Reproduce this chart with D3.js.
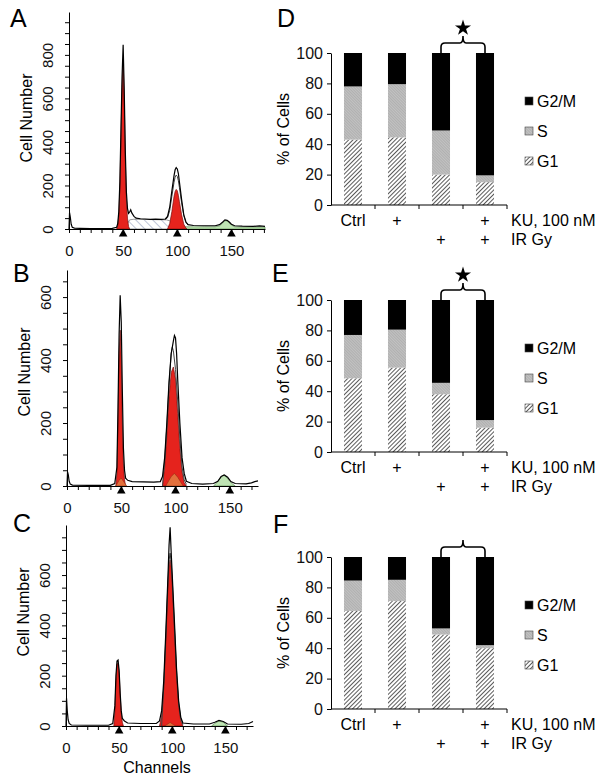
<!DOCTYPE html>
<html>
<head>
<meta charset="utf-8">
<script src="https://cdnjs.cloudflare.com/ajax/libs/d3/7.8.5/d3.min.js"></script>
<style>
  body { margin: 0; background: #fff; }
  svg { font-family: 'Liberation Sans', Arial, sans-serif; }
</style>
</head>
<body>
<div id="chart"></div>
<script>
const channelLabels = [0, 50, 100, 150];
const peakMarks = [50, 100, 150];

const totalA = [[0, 0], [0.5, 75], [1.2, 55], [2, 22], [3, 8], [5, 4], [10, 3], [20, 2], [30, 2], [40, 3],
  [44, 8], [45, 25], [46, 80], [47, 220], [48, 460], [49, 700], [50, 846], [51, 640], [52, 360], [53, 170],
  [54, 95], [55, 72], [56, 78], [57, 88], [58, 74], [60, 58], [62, 50], [66, 47], [70, 46], [75, 44],
  [80, 45], [85, 44], [89, 46], [91, 58], [93, 100], [95, 175], [97, 245], [98, 272], [99, 282], [100, 276],
  [101, 255], [102, 215], [104, 135], [106, 65], [108, 32], [110, 20], [115, 16], [125, 15], [135, 15],
  [139, 20], [142, 32], [144, 42], [146, 40], [148, 32], [150, 22], [153, 15], [160, 13], [170, 12],
  [176, 14], [181, 12]];
const fitA = [[89, 44], [91, 52], [93, 85], [95, 150], [97, 215], [98, 238], [99, 248], [100, 242],
  [101, 222], [102, 190], [104, 120], [106, 62], [108, 30], [110, 18]];
const g1A = [[44, 0], [45, 15], [46, 60], [47, 190], [48, 420], [49, 650], [50, 780], [51, 590], [52, 320],
  [53, 140], [54, 50], [55, 12], [56, 0]];
const g2A = [[91, 0], [93, 25], [95, 80], [97, 150], [98, 172], [99, 182], [100, 176], [101, 155],
  [102, 125], [104, 65], [106, 22], [108, 4], [109, 0]];
const g3A = [[104, 0], [105, 10], [115, 10], [125, 10], [135, 10], [139, 14], [142, 28], [144, 38],
  [146, 37], [148, 28], [150, 18], [153, 10], [160, 9], [170, 9], [181, 9], [181, 0]];
const sA = [[52, 0], [54, 25], [56, 42], [60, 45], [70, 44], [80, 43], [90, 42], [94, 36], [97, 20], [99, 0]];

const totalB = [[0, 0], [0.5, 45], [1.2, 35], [2, 15], [3, 6], [5, 3], [20, 2], [40, 2], [44, 8], [46, 60],
  [47, 250], [48, 480], [49, 606], [50, 520], [51, 300], [52, 120], [53, 50], [54, 25], [56, 18], [60, 14],
  [70, 13], [80, 12], [86, 14], [88, 30], [90, 90], [92, 200], [94, 330], [96, 420], [98, 460], [99, 478],
  [100, 470], [101, 420], [102, 340], [104, 200], [106, 90], [108, 40], [110, 15], [115, 8], [125, 6],
  [135, 8], [139, 15], [142, 30], [145, 35], [148, 28], [151, 14], [155, 8], [165, 7], [170, 10],
  [173, 14], [176, 16]];
const fitB = [[88, 0], [90, 80], [92, 190], [94, 320], [96, 420], [97, 441], [98, 430], [100, 370],
  [102, 270], [104, 150], [106, 60], [108, 20], [110, 5]];
const g1B = [[45, 0], [46, 40], [47, 200], [48, 420], [49, 495], [50, 400], [51, 200], [52, 70], [53, 20], [54, 0]];
const g2B = [[88, 0], [90, 60], [92, 160], [94, 280], [96, 360], [98, 378], [100, 340], [102, 230],
  [104, 120], [106, 45], [108, 10], [110, 0]];
const g3B = [[135, 0], [138, 10], [141, 25], [144, 35], [147, 28], [150, 15], [153, 5], [155, 0]];
const overlapB1 = [[45, 0], [48, 18], [50, 25], [52, 15], [55, 0]];
const overlapB2 = [[91, 0], [96, 30], [99, 40], [102, 28], [107, 0]];

const totalC = [[0, 0], [0.5, 110], [1.2, 60], [2, 25], [3, 10], [5, 4], [20, 3], [40, 3], [44, 10],
  [46, 80], [47, 200], [48, 258], [49, 262], [50, 220], [51, 130], [52, 60], [53, 30], [55, 20], [58, 12],
  [70, 10], [85, 10], [88, 20], [90, 60], [92, 180], [94, 380], [96, 600], [97, 720], [98, 790], [99, 690],
  [100, 600], [102, 420], [104, 230], [106, 100], [108, 35], [110, 12], [120, 8], [135, 8], [140, 15],
  [144, 22], [148, 18], [152, 8], [165, 7], [172, 10], [176, 18]];
const fitC = [[90, 0], [92, 160], [94, 360], [96, 580], [97, 660], [98, 687], [99, 650], [100, 580],
  [102, 400], [104, 220], [106, 90], [108, 30], [110, 5]];
const g1C = [[45, 0], [46, 60], [47, 180], [48, 245], [49, 250], [50, 210], [51, 120], [52, 50], [53, 15], [54, 0]];
const g2C = [[88, 0], [90, 40], [92, 150], [94, 340], [96, 560], [97, 640], [98, 660], [99, 630],
  [100, 560], [102, 380], [104, 200], [106, 80], [108, 20], [110, 0]];
const g3C = [[137, 0], [140, 10], [144, 20], [148, 15], [152, 0]];
const overlapC = [[93, 0], [98, 14], [103, 0]];

// ---- Cell cycle distribution, % of cells (panels D-F) ----
const treatments = ['Ctrl', 'KU', 'IR', 'KU+IR'];
const kuRow = ['Ctrl', '+', '', '+'];
const irRow = ['', '', '+', '+'];
const phases = ['G1', 'S', 'G2/M'];
const legendOrder = ['G2/M', 'S', 'G1'];

const g1D = [43, 44.5, 20, 15];
const sD = [35, 35, 29, 4.5];
const g2mD = [22, 20.5, 51, 80.5];

const g1E = [48.5, 55.5, 38, 16];
const sE = [28.5, 25, 7.5, 5];
const g2mE = [23, 19.5, 54.5, 79];

const g1F = [64.5, 71, 49, 40];
const sF = [20, 14, 4, 2];
const g2mF = [15.5, 15, 47, 58];

const svg = d3.select('#chart').append('svg')
  .attr('width', 604)
  .attr('height', 784);

// fill patterns
const defs = svg.append('defs');
function hatch(id, angle, gap, bg, stroke, width) {
  const p = defs.append('pattern')
    .attr('id', id)
    .attr('patternUnits', 'userSpaceOnUse')
    .attr('width', gap)
    .attr('height', gap)
    .attr('patternTransform', `rotate(${angle})`);
  p.append('rect').attr('width', gap).attr('height', gap).attr('fill', bg);
  p.append('line').attr('x1', 0).attr('y1', 0).attr('x2', 0).attr('y2', gap)
    .attr('stroke', stroke).attr('stroke-width', width);
}
hatch('g1Fill', 45, 3, '#fff', '#000', 1.3);
hatch('sFill', -45, 2, '#c2c2c2', '#8f8f8f', 0.7);
hatch('sHist', -45, 6, '#fff', '#6f7ea6', 0.9);
const phaseFill = { 'G1': 'url(#g1Fill)', 'S': 'url(#sFill)', 'G2/M': '#000' };

function panelLetter(txt, x, y) {
  svg.append('text').attr('x', x).attr('y', y).attr('font-size', 25).text(txt);
}

/**
 * Draws one DNA histogram: fitted peaks, raw outline, axes and peak markers.
 */
function drawHistogram(o) {
  const g = svg.append('g');
  const x = d3.scaleLinear().domain([0, o.xMax]).range([o.x0, o.x1]);
  const y = d3.scaleLinear().domain([0, o.yMax]).range([o.y0, o.yTop]);
  const area = d3.area().x((d) => x(d[0])).y0(y(0)).y1((d) => y(d[1]));
  const line = d3.line().x((d) => x(d[0])).y((d) => y(d[1]));

  g.append('path').datum(o.g3).attr('d', area)
    .attr('fill', '#bfe4b4').attr('stroke', '#5d8f55').attr('stroke-width', 0.7);
  if (o.s) {
    g.append('path').datum(o.s).attr('d', area)
      .attr('fill', 'url(#sHist)').attr('stroke', '#555').attr('stroke-width', 0.6);
  }
  o.peaks.forEach((p) => {
    g.append('path').datum(p).attr('d', area)
      .attr('fill', '#e5231d').attr('stroke', '#7a0d0d').attr('stroke-width', 0.7);
  });
  (o.overlaps || []).forEach((p) => {
    g.append('path').datum(p).attr('d', area)
      .attr('fill', '#e2703c').attr('stroke', '#8a2a10').attr('stroke-width', 0.5);
  });
  g.append('path').datum(o.fit).attr('d', line)
    .attr('fill', 'none').attr('stroke', '#444').attr('stroke-width', 1);
  g.append('path').datum(o.total).attr('d', line)
    .attr('fill', 'none').attr('stroke', '#000').attr('stroke-width', 1.2);

  const xAxis = d3.axisBottom(x)
    .tickValues(d3.range(0, o.xMax, 10))
    .tickSize(4)
    .tickSizeOuter(0)
    .tickFormat((d) => (channelLabels.includes(d) ? d : ''));
  const xg = g.append('g').attr('transform', `translate(0,${o.y0})`).call(xAxis);
  xg.selectAll('text').attr('y', 27).attr('dy', 0).attr('font-size', 15).attr('fill', '#111');

  const yAxis = d3.axisLeft(y)
    .tickValues(d3.range(0, o.yMax, 50))
    .tickSize(4)
    .tickSizeOuter(0)
    .tickFormat((d) => (d % 200 === 0 ? d : ''));
  const yg = g.append('g').attr('transform', `translate(${o.x0},0)`).call(yAxis);
  yg.selectAll('text')
    .attr('transform', 'rotate(-90)')
    .attr('x', 0).attr('y', -16).attr('dy', 0)
    .style('text-anchor', 'middle')
    .attr('font-size', 15).attr('fill', '#111');
  g.selectAll('.domain, .tick line').attr('stroke', '#000');

  g.selectAll('.mark').data(peakMarks).enter().append('path')
    .attr('transform', (d) => `translate(${x(d)},${o.y0 + 5})`)
    .attr('d', d3.symbol(d3.symbolTriangle).size(32))
    .attr('fill', '#000');

  g.append('text')
    .attr('transform', `translate(${o.x0 - 37},${o.labelY}) rotate(-90)`)
    .style('text-anchor', 'middle')
    .attr('font-size', 16)
    .text('Cell Number');
}

/**
 * Draws one stacked bar panel with legend, treatment rows and the bracket.
 */
function drawBars(o) {
  const g = svg.append('g');
  const rows = treatments.map((t, i) => ({
    t, 'G1': o.g1[i], 'S': o.s[i], 'G2/M': o.g2m[i],
  }));
  const series = d3.stack().keys(phases)(rows);
  const x = d3.scaleBand().domain(treatments).range([331, 507]).paddingInner(0.59).paddingOuter(0.295);
  const y = d3.scaleLinear().domain([0, 100]).range([o.y0, o.y0 - 152]);

  g.selectAll('.layer').data(series).enter().append('g')
    .attr('fill', (s) => phaseFill[s.key])
    .selectAll('rect')
    .data((s) => s)
    .enter()
    .append('rect')
    .attr('x', (d) => x(d.data.t))
    .attr('width', x.bandwidth())
    .attr('y', (d) => y(d[1]))
    .attr('height', (d) => y(d[0]) - y(d[1]));

  const yg = g.append('g').attr('transform', 'translate(331,0)')
    .call(d3.axisLeft(y).tickValues(d3.range(0, 101, 20)).tickSize(4).tickSizeOuter(0).tickPadding(4));
  yg.selectAll('text').attr('font-size', 16).attr('fill', '#111');

  // category axis with ticks between the bars
  const bounds = d3.range(0, treatments.length + 1).map((i) => 331 + i * x.step());
  g.append('line').attr('x1', 331).attr('x2', 507).attr('y1', o.y0).attr('y2', o.y0).attr('stroke', '#000');
  g.selectAll('.sep').data(bounds.slice(1)).enter().append('line')
    .attr('x1', (d) => d).attr('x2', (d) => d)
    .attr('y1', o.y0).attr('y2', o.y0 + 4)
    .attr('stroke', '#000');
  g.selectAll('.domain, .tick line').attr('stroke', '#000');

  const center = (t) => x(t) + x.bandwidth() / 2;
  g.selectAll('.ku').data(treatments).enter().append('text')
    .attr('x', (t) => center(t)).attr('y', o.y0 + 21)
    .style('text-anchor', 'middle').attr('font-size', 16)
    .text((t, i) => kuRow[i]);
  g.selectAll('.ir').data(treatments).enter().append('text')
    .attr('x', (t) => center(t)).attr('y', o.y0 + 40)
    .style('text-anchor', 'middle').attr('font-size', 16)
    .text((t, i) => irRow[i]);
  g.append('text').attr('x', 511).attr('y', o.y0 + 21).attr('font-size', 16).text('KU, 100 nM');
  g.append('text').attr('x', 511).attr('y', o.y0 + 40).attr('font-size', 16).text('IR Gy');

  g.append('text')
    .attr('transform', `translate(${331 - 42},${o.y0 - 76}) rotate(-90)`)
    .style('text-anchor', 'middle').attr('font-size', 16)
    .text('% of Cells');

  // legend
  const lg = g.selectAll('.leg').data(legendOrder).enter().append('g')
    .attr('transform', (d, i) => `translate(525,${o.y0 - 104 + i * 30})`);
  lg.append('rect').attr('x', 0).attr('y', -4).attr('width', 8).attr('height', 8)
    .attr('fill', (d) => phaseFill[d]).attr('stroke', '#444').attr('stroke-width', 0.6);
  lg.append('text').attr('x', 12).attr('y', 6).attr('font-size', 16).text((d) => d);

  // bracket over the irradiated pair
  const xa = center('IR');
  const xb = center('KU+IR');
  const xm = (xa + xb) / 2;
  const yb = y(100);
  const yh = yb - 10;
  g.append('path')
    .attr('d', `M${xa},${yb} L${xa},${yh + 4} Q${xa},${yh} ${xa + 4},${yh} L${xm - 3},${yh}`
      + ` Q${xm},${yh} ${xm},${yh - 7} Q${xm},${yh} ${xm + 3},${yh} L${xb - 4},${yh}`
      + ` Q${xb},${yh} ${xb},${yh + 4} L${xb},${yb}`)
    .attr('fill', 'none').attr('stroke', '#000').attr('stroke-width', 1.6);
  if (o.star) {
    g.append('path')
      .attr('transform', `translate(${xm},${yh - 15})`)
      .attr('d', d3.symbol(d3.symbolStar).size(80))
      .attr('fill', '#000');
  }
}

drawHistogram({
  x0: 69, x1: 265, xMax: 181, y0: 229, yTop: 12, yMax: 997, labelY: 118,
  total: totalA, fit: fitA, peaks: [g1A, g2A], g3: g3A, s: sA,
});
drawHistogram({
  x0: 67, x1: 258, xMax: 176, y0: 486, yTop: 270, yMax: 686, labelY: 372,
  total: totalB, fit: fitB, peaks: [g1B, g2B], g3: g3B, overlaps: [overlapB1, overlapB2],
});
drawHistogram({
  x0: 66, x1: 253, xMax: 176, y0: 726, yTop: 525, yMax: 799, labelY: 612,
  total: totalC, fit: fitC, peaks: [g1C, g2C], g3: g3C, overlaps: [overlapC],
});
svg.append('text').attr('x', 157).attr('y', 773).style('text-anchor', 'middle')
  .attr('font-size', 16).text('Channels');

drawBars({ y0: 205, g1: g1D, s: sD, g2m: g2mD, star: true });
drawBars({ y0: 452, g1: g1E, s: sE, g2m: g2mE, star: true });
drawBars({ y0: 709, g1: g1F, s: sF, g2m: g2mF, star: false });

panelLetter('A', 10, 27);
panelLetter('B', 13, 282);
panelLetter('C', 13, 532);
panelLetter('D', 277, 27);
panelLetter('E', 272, 282);
panelLetter('F', 273, 533);
</script>
</body>
</html>
